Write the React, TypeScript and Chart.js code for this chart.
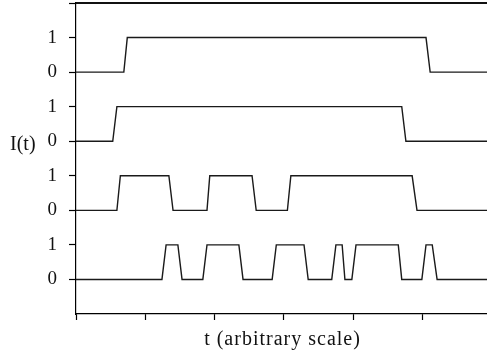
import React, { useEffect, useRef } from "react";
import { Chart, registerables } from "chart.js";

Chart.register(...registerables);

// transition times (arbitrary units, one x tick = 1) and levels of each trace
const t1 = [0, 0.69, 0.74, 5.05, 5.11, 5.93];
const v1 = [0, 0, 1, 1, 0, 0];
const t2 = [0, 0.53, 0.59, 4.7, 4.76, 5.93];
const v2 = [0, 0, 1, 1, 0, 0];
const t3 = [0, 0.59, 0.64, 1.34, 1.4, 1.89, 1.93, 2.54, 2.6, 3.05, 3.1, 4.85, 4.92, 5.93];
const v3 = [0, 0, 1, 1, 0, 0, 1, 1, 0, 0, 1, 1, 0, 0];
const t4 = [0, 1.24, 1.3, 1.47, 1.53, 1.83, 1.89, 2.35, 2.41, 2.83, 2.89, 3.29, 3.35, 3.69, 3.75, 3.84, 3.88, 3.98, 4.04, 4.65, 4.7, 4.99, 5.05, 5.14, 5.21, 5.93];
const v4 = [0, 0, 1, 1, 0, 0, 1, 1, 0, 0, 1, 1, 0, 0, 1, 1, 0, 0, 1, 1, 0, 0, 1, 1, 0, 0];

const traceTimes = [t1, t2, t3, t4];
const traceLevels = [v1, v2, v3, v4];
const traceOffsets = [6, 4, 2, 0];

const xTicks = [0, 1, 2, 3, 4, 5];
const yTicks = [0, 1, 2, 3, 4, 5, 6, 7, 8];
const yTickLabels = ["0", "1", "0", "1", "0", "1", "0", "1", ""];

const X_MIN = 0;
const X_MAX = 5.93;
const Y_MIN = -1;
const Y_MAX = 8;

const yLabel = "I(t)";
const xLabel = "t (arbitrary scale)";

const FONT = "'Liberation Serif', 'Times New Roman', serif";

const textPlugin = {
  id: "extraText",
  afterDraw(chart: any) {
    const ctx = chart.ctx;
    const area = chart.chartArea;
    ctx.save();
    // top frame line
    ctx.fillStyle = "#111";
    ctx.fillRect(area.left, area.top - 1, area.right - area.left, 2);
    ctx.font = `20px ${FONT}`;
    ctx.textBaseline = "middle";
    ctx.textAlign = "left";
    const yMid = chart.scales.y.getPixelForValue(4);
    ctx.fillText(yLabel, 10, yMid + 4);
    ctx.textAlign = "center";
    try {
      (ctx as any).letterSpacing = "1px";
    } catch (e) {}
    ctx.fillText(xLabel, (area.left + area.right) / 2 + 1, 340);
    ctx.restore();
  },
};

export default function App() {
  const ref = useRef<HTMLCanvasElement | null>(null);

  useEffect(() => {
    if (!ref.current) return;
    const datasets = traceTimes.map((ts, i) => ({
      label: `trace ${i + 1}`,
      data: ts.map((t, j) => ({ x: t, y: traceLevels[i][j] + traceOffsets[i] })),
      borderColor: "#1a1a1a",
      borderWidth: 1.4,
      pointRadius: 0,
      tension: 0,
      fill: false,
    }));
    const chart = new Chart(ref.current, {
      type: "line",
      data: { datasets },
      plugins: [textPlugin],
      options: {
        animation: false,
        responsive: false,
        devicePixelRatio: 1,
        layout: { padding: { top: 3, left: 0, right: 0, bottom: 0 } },
        plugins: { legend: { display: false }, tooltip: { enabled: false } },
        scales: {
          x: {
            type: "linear",
            min: X_MIN,
            max: X_MAX,
            afterBuildTicks: (s: any) => {
              s.ticks = xTicks.map((v) => ({ value: v }));
            },
            afterFit: (s: any) => {
              s.height = 44;
              s.paddingLeft = 0;
              s.paddingRight = 0;
            },
            ticks: { display: false },
            grid: {
              drawOnChartArea: false,
              drawTicks: true,
              tickLength: 6,
              tickColor: "#000",
              tickWidth: 1.2,
            },
            border: { display: true, color: "#000", width: 1.2 },
          },
          y: {
            type: "linear",
            min: Y_MIN,
            max: Y_MAX,
            afterBuildTicks: (s: any) => {
              s.ticks = yTicks.map((v) => ({ value: v }));
            },
            afterFit: (s: any) => {
              s.width = 76;
              s.paddingTop = 0;
              s.paddingBottom = 0;
            },
            ticks: {
              color: "#111",
              padding: 12,
              font: { family: FONT, size: 19 },
              callback: (v: any) => yTickLabels[yTicks.indexOf(Number(v))] ?? "",
            },
            grid: {
              drawOnChartArea: false,
              drawTicks: true,
              tickLength: 7,
              tickColor: "#000",
              tickWidth: 1.2,
            },
            border: { display: true, color: "#000", width: 1.2 },
          },
        },
      },
    });
    return () => chart.destroy();
  }, []);

  return (
    <div style={{ position: "absolute", left: 0, top: 0, width: 487, height: 358, background: "#fff" }}>
      <canvas ref={ref} width={487} height={358} style={{ display: "block", width: 487, height: 358 }} />
    </div>
  );
}
